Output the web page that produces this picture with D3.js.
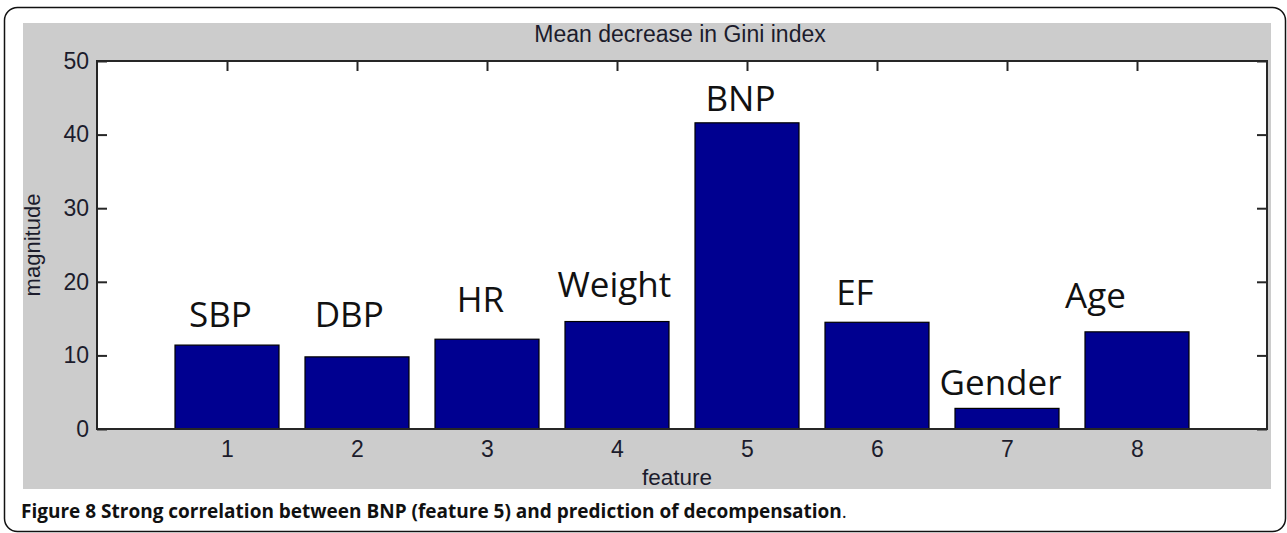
<!DOCTYPE html>
<html>
<head>
<meta charset="utf-8">
<script src="https://cdn.jsdelivr.net/npm/d3@7"></script>
<style>
  body { margin: 0; background: #fff; }
  svg { display: block; }
</style>
</head>
<body>
<svg id="chart" width="1287" height="533"></svg>
<script>
// data
var features = [1, 2, 3, 4, 5, 6, 7, 8];
var featureNames = ["SBP", "DBP", "HR", "Weight", "BNP", "EF", "Gender", "Age"];
var giniDecrease = [11.4, 9.8, 12.2, 14.6, 41.6, 14.5, 2.8, 13.2];
var yTicks = [0, 10, 20, 30, 40, 50];
// where the name annotations sit, in data units (feature, magnitude)
var nameAtX = [0.95, 1.94, 2.95, 3.98, 4.95, 5.83, 6.95, 7.68];
var nameAtY = [13.9, 13.9, 15.9, 17.9, 43.2, 16.9, 4.6, 16.5];

var plot = { left: 97, top: 61, right: 1267, bottom: 429 };
var axisColor = "#262626";
var barColor = "#000090";
var labelFont = "'Liberation Sans', Arial, sans-serif";
var labelColor = "#1c1c2c";

var svg = d3.select("#chart");

// rounded frame round the whole figure
svg.append("rect")
    .attr("x", 4.5).attr("y", 7.5)
    .attr("width", 1281).attr("height", 524)
    .attr("rx", 13).attr("ry", 13)
    .attr("fill", "#fff")
    .attr("stroke", "#111")
    .attr("stroke-width", 1.5);

// grey matlab figure background
svg.append("rect")
    .attr("x", 23).attr("y", 23)
    .attr("width", 1248).attr("height", 466)
    .attr("fill", "#cccccc");

var x = d3.scaleLinear().domain([0, 9]).range([plot.left, plot.right]);
var y = d3.scaleLinear().domain([0, 50]).range([plot.bottom, plot.top]);
var barWidth = 0.8 * (x(1) - x(0));

svg.append("rect")
    .attr("x", plot.left).attr("y", plot.top)
    .attr("width", plot.right - plot.left).attr("height", plot.bottom - plot.top)
    .attr("fill", "#fff");

var tickLen = 10;
var styleAxis = function(g) {
    g.select(".domain").remove();
    g.selectAll(".tick line").attr("stroke", axisColor).attr("stroke-width", 2);
    g.selectAll(".tick text")
        .attr("fill", labelColor)
        .style("font-family", labelFont)
        .style("font-size", "23px");
};

svg.append("g")
    .attr("transform", "translate(0," + plot.bottom + ")")
    .call(d3.axisBottom(x).tickValues(features).tickSize(-tickLen).tickPadding(12))
    .call(styleAxis);

svg.append("g")
    .attr("transform", "translate(0," + plot.top + ")")
    .call(d3.axisTop(x).tickValues(features).tickSize(-tickLen).tickFormat(""))
    .call(styleAxis);

svg.append("g")
    .attr("transform", "translate(" + plot.left + ",0)")
    .call(d3.axisLeft(y).tickValues(yTicks).tickSize(-tickLen).tickPadding(8))
    .call(styleAxis);

svg.append("g")
    .attr("transform", "translate(" + plot.right + ",0)")
    .call(d3.axisRight(y).tickValues(yTicks).tickSize(-tickLen).tickFormat(""))
    .call(styleAxis);

// bars
svg.append("g").selectAll("rect")
    .data(giniDecrease)
  .enter()
    .append("rect")
    .attr("x", function(d, i) { return x(features[i]) - barWidth / 2; })
    .attr("y", function(d) { return y(d); })
    .attr("width", barWidth)
    .attr("height", function(d) { return y(0) - y(d); })
    .attr("fill", barColor)
    .attr("stroke", "#000")
    .attr("stroke-width", 1.2);

// box
svg.append("rect")
    .attr("x", plot.left).attr("y", plot.top)
    .attr("width", plot.right - plot.left).attr("height", plot.bottom - plot.top)
    .attr("fill", "none")
    .attr("stroke", axisColor)
    .attr("stroke-width", 2);

// feature names
svg.append("g").selectAll("text")
    .data(featureNames)
  .enter()
    .append("text")
    .attr("x", function(d, i) { return x(nameAtX[i]); })
    .attr("y", function(d, i) { return y(nameAtY[i]); })
    .attr("text-anchor", "middle")
    .attr("fill", "#111")
    .style("font-family", "'Open Sans', sans-serif")
    .style("font-size", "35px")
    .text(function(d) { return d; });

svg.append("text")
    .attr("x", 680).attr("y", 42)
    .attr("text-anchor", "middle")
    .attr("fill", labelColor)
    .style("font-family", labelFont)
    .style("font-size", "23px")
    .text("Mean decrease in Gini index");

svg.append("text")
    .attr("x", 677).attr("y", 485)
    .attr("text-anchor", "middle")
    .attr("fill", labelColor)
    .style("font-family", labelFont)
    .style("font-size", "22.5px")
    .text("feature");

svg.append("text")
    .attr("transform", "translate(40," + ((plot.top + plot.bottom) / 2) + ") rotate(-90)")
    .attr("text-anchor", "middle")
    .attr("fill", labelColor)
    .style("font-family", labelFont)
    .style("font-size", "22px")
    .text("magnitude");

// caption
var caption = svg.append("text")
    .attr("x", 21).attr("y", 518)
    .attr("fill", "#111")
    .style("font-family", "'Open Sans', sans-serif")
    .style("font-size", "19px");
caption.append("tspan")
    .style("font-weight", "bold")
    .text("Figure 8 Strong correlation between BNP (feature 5) and prediction of decompensation");
caption.append("tspan").text(".");
</script>
</body>
</html>
